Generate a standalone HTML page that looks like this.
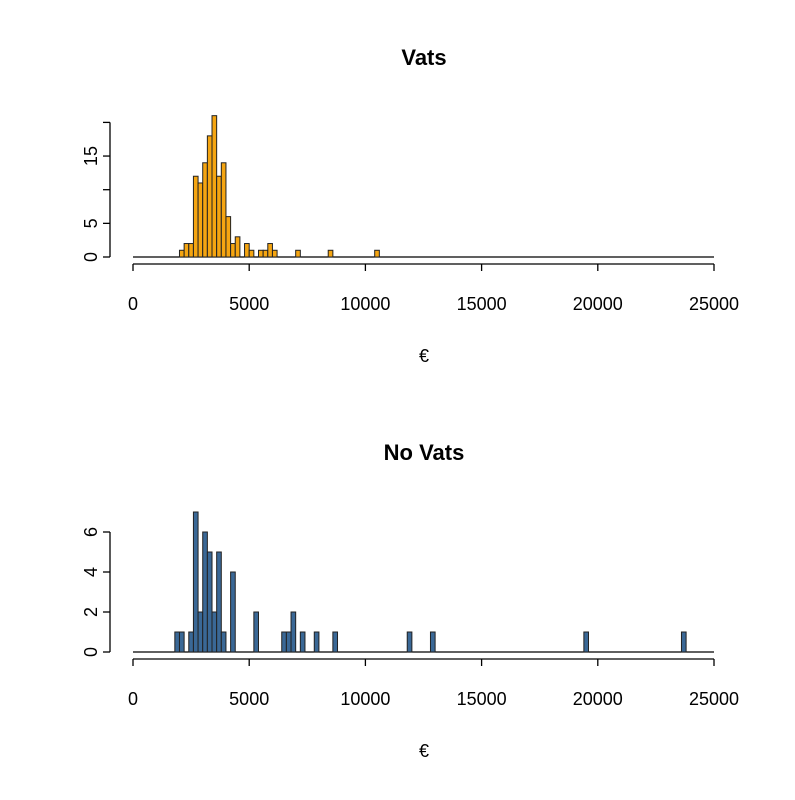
<!DOCTYPE html>
<html><head><meta charset="utf-8"><style>
body{margin:0;background:#fff}
svg text{font-family:"Liberation Sans",Arial,sans-serif;fill:#000}
</style></head><body>
<svg id="c" width="795" height="795" xmlns="http://www.w3.org/2000/svg"></svg>
<script>
const binWidth = 200;
const vatsStarts = [2000,2200,2400,2600,2800,3000,3200,3400,3600,3800,4000,4200,4400,4800,5000,5400,5600,5800,6000,7000,8400,10400];
const vatsCounts = [1,2,2,12,11,14,18,21,12,14,6,2,3,2,1,1,1,2,1,1,1,1];
const noVatsStarts = [1800,2000,2400,2600,2800,3000,3200,3400,3600,3800,4200,5200,6400,6600,6800,7200,7800,8600,11800,12800,19400,23600];
const noVatsCounts = [1,1,1,7,2,6,5,2,5,1,4,2,1,1,2,1,1,1,1,1,1,1];
const xTicks = [0,5000,10000,15000,20000,25000];
const vatsYTicks = [0,5,10,15,20];
const vatsYLabels = ['0','5','','15',''];
const noVatsYTicks = [0,2,4,6];
const noVatsYLabels = ['0','2','4','6'];

const NS='http://www.w3.org/2000/svg';
const svg=document.getElementById('c');
function mk(tag,attrs,parent){const e=document.createElementNS(NS,tag);for(const k in attrs)e.setAttribute(k,attrs[k]);(parent||svg).appendChild(e);return e;}
const X0=133,X1=714;
const xs=v=>X0+(v/25000)*(X1-X0);

function panel(id,title,titleY,base,unit,starts,counts,yt,yl,fill,yMax){
  const g=mk('g',{});
  
  
  const ys=v=>base-v*unit;
  const t=mk('text',{x:424,y:titleY,'text-anchor':'middle','font-size':'22','font-weight':'bold'},g);
  t.textContent=title;
  
  
  const bl=mk('line',{x1:X0,x2:X1,y1:base,y2:base,stroke:'#000','stroke-width':1.3},g);
  
  
  starts.forEach((s,i)=>{
    const r=mk('rect',{x:xs(s),y:ys(counts[i]),width:xs(s+binWidth)-xs(s),height:counts[i]*unit,fill:fill,stroke:'#222','stroke-width':1},g);
    
    
  });
  // y axis
  const ya=mk('line',{x1:110,x2:110,y1:ys(0),y2:ys(yMax),stroke:'#000','stroke-width':1.3},g);
  
  
  yt.forEach((v,i)=>{
    mk('line',{x1:103,x2:110,y1:ys(v),y2:ys(v),stroke:'#000','stroke-width':1.3},g);
    if(yl[i]){const tx=mk('text',{x:0,y:0,'text-anchor':'middle','font-size':'18',transform:`translate(97,${ys(v)}) rotate(-90)`},g);
      tx.textContent=yl[i];
      
      }
  });
  // x axis
  const ax=base+7;
  const xa=mk('line',{x1:X0,x2:X1,y1:ax,y2:ax,stroke:'#000','stroke-width':1.3},g);
  
  
  xTicks.forEach(v=>{
    mk('line',{x1:xs(v),x2:xs(v),y1:ax,y2:ax+7,stroke:'#000','stroke-width':1.3},g);
    const tx=mk('text',{x:xs(v),y:ax+46,'text-anchor':'middle','font-size':'18'},g);
    tx.textContent=v;
    
    
  });
  const xt=mk('text',{x:424,y:ax+98,'text-anchor':'middle','font-size':'18'},g);
  xt.textContent='€';
  
  
}
panel('vats','Vats',65,257,6.73,vatsStarts,vatsCounts,vatsYTicks,vatsYLabels,'#F5A511',20);
panel('no-vats','No Vats',460,652,20,noVatsStarts,noVatsCounts,noVatsYTicks,noVatsYLabels,'#3A6896',6);
</script>
</body></html>
